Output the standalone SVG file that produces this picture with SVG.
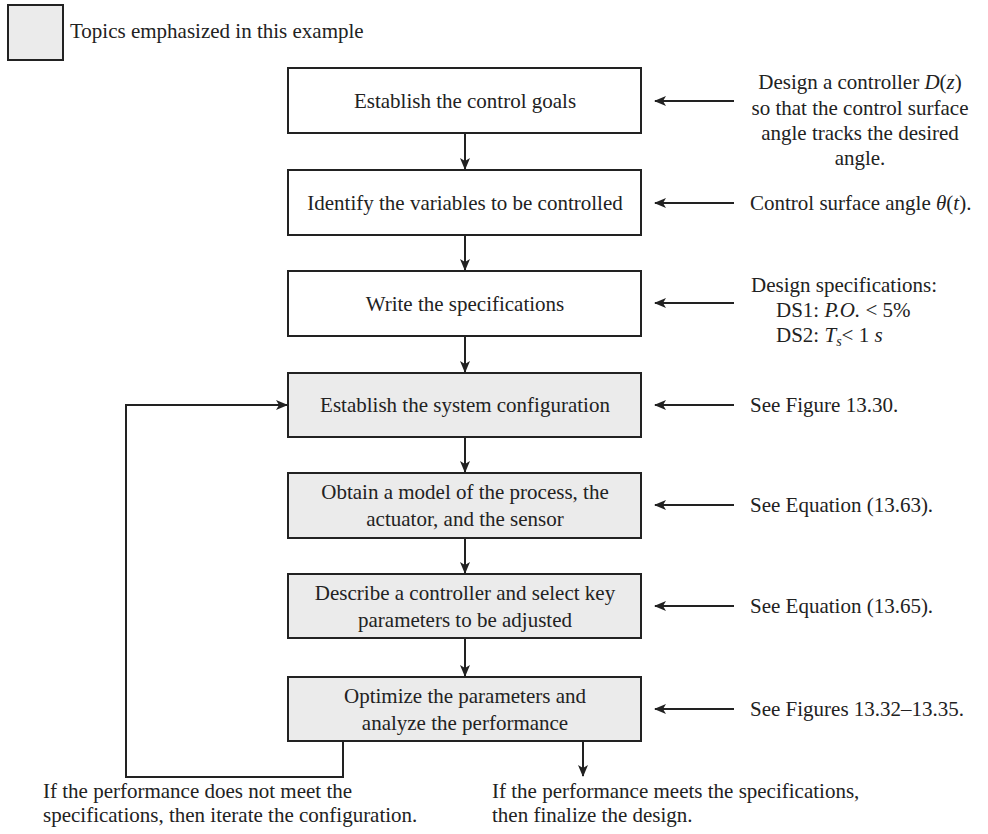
<svg xmlns="http://www.w3.org/2000/svg" width="988" height="834" viewBox="0 0 988 834">
<defs>
<marker id="ah" markerWidth="12" markerHeight="10" refX="11" refY="5" orient="auto" markerUnits="userSpaceOnUse">
<path d="M0,0 L12,5 L0,10 L3,5 Z" fill="#222"/>
</marker>
</defs>
<style>
text{font-family:"Liberation Serif","Times New Roman",serif;font-size:21px;fill:#222}
.c{text-anchor:middle}
.box{stroke:#222;stroke-width:2}
.w{fill:#fff}
.g{fill:#ebebeb}
.ln{stroke:#222;stroke-width:2;fill:none}
</style>
<rect x="0" y="0" width="988" height="834" fill="#fff"/>
<g id="legend">
<rect class="box g" x="8" y="5" width="55" height="55"/>
<text x="70" y="38" font-size="20">Topics emphasized in this example</text>
</g>
<g id="n1"><rect class="box w" x="288" y="68" width="353" height="65"/><text class="c" x="465" y="108">Establish the control goals</text></g>
<g id="n2"><rect class="box w" x="288" y="170" width="353" height="65"/><text class="c" x="465" y="210">Identify the variables to be controlled</text></g>
<g id="n3"><rect class="box w" x="288" y="271" width="353" height="65"/><text class="c" x="465" y="311">Write the specifications</text></g>
<g id="n4"><rect class="box g" x="288" y="373" width="353" height="64"/><text class="c" x="465" y="412">Establish the system configuration</text></g>
<g id="n5"><rect class="box g" x="288" y="473" width="353" height="65"/><text class="c" x="465" y="499">Obtain a model of the process, the</text><text class="c" x="465" y="526">actuator, and the sensor</text></g>
<g id="n6"><rect class="box g" x="288" y="574" width="353" height="64"/><text class="c" x="465" y="600">Describe a controller and select key</text><text class="c" x="465" y="627">parameters to be adjusted</text></g>
<g id="n7"><rect class="box g" x="288" y="677" width="353" height="64"/><text class="c" x="465" y="703">Optimize the parameters and</text><text class="c" x="465" y="730">analyze the performance</text></g>
<g id="connectors">
<line class="ln" x1="465" y1="133" x2="465" y2="169" marker-end="url(#ah)"/>
<line class="ln" x1="465" y1="235" x2="465" y2="270" marker-end="url(#ah)"/>
<line class="ln" x1="465" y1="336" x2="465" y2="372" marker-end="url(#ah)"/>
<line class="ln" x1="465" y1="437" x2="465" y2="472" marker-end="url(#ah)"/>
<line class="ln" x1="465" y1="538" x2="465" y2="573" marker-end="url(#ah)"/>
<line class="ln" x1="465" y1="638" x2="465" y2="676" marker-end="url(#ah)"/>
<polyline class="ln" points="343,741 343,777 126,777 126,405 287,405" marker-end="url(#ah)"/>
<line class="ln" x1="583" y1="741" x2="583" y2="776" marker-end="url(#ah)"/>
<line class="ln" x1="734" y1="101" x2="655" y2="101" marker-end="url(#ah)"/>
<line class="ln" x1="734" y1="203" x2="655" y2="203" marker-end="url(#ah)"/>
<line class="ln" x1="734" y1="303" x2="655" y2="303" marker-end="url(#ah)"/>
<line class="ln" x1="734" y1="405" x2="655" y2="405" marker-end="url(#ah)"/>
<line class="ln" x1="734" y1="505" x2="655" y2="505" marker-end="url(#ah)"/>
<line class="ln" x1="734" y1="606" x2="655" y2="606" marker-end="url(#ah)"/>
<line class="ln" x1="734" y1="709" x2="655" y2="709" marker-end="url(#ah)"/>
</g>
<g id="notes">
<text class="c" x="860" y="89">Design a controller <tspan font-style="italic">D</tspan>(<tspan font-style="italic">z</tspan>)</text>
<text class="c" x="860" y="115">so that the control surface</text>
<text class="c" x="860" y="140">angle tracks the desired</text>
<text class="c" x="860" y="165">angle.</text>
<text x="750" y="210">Control surface angle <tspan font-style="italic">θ</tspan>(<tspan font-style="italic">t</tspan>).</text>
<text class="c" x="844" y="292">Design specifications:</text>
<text x="776" y="317">DS1: <tspan font-style="italic">P.O.</tspan> &lt; 5%</text>
<text x="776" y="342">DS2: <tspan font-style="italic">T</tspan><tspan font-style="italic" font-size="14" dy="4">s</tspan><tspan dy="-4">&lt; 1 </tspan><tspan font-style="italic">s</tspan></text>
<text x="750" y="412">See Figure 13.30.</text>
<text x="750" y="512">See Equation (13.63).</text>
<text x="750" y="613">See Equation (13.65).</text>
<text x="750" y="716">See Figures 13.32–13.35.</text>
<text x="43" y="798">If the performance does not meet the</text>
<text x="43" y="822">specifications, then iterate the configuration.</text>
<text x="492" y="798">If the performance meets the specifications,</text>
<text x="492" y="822">then finalize the design.</text>
</g>
</svg>
